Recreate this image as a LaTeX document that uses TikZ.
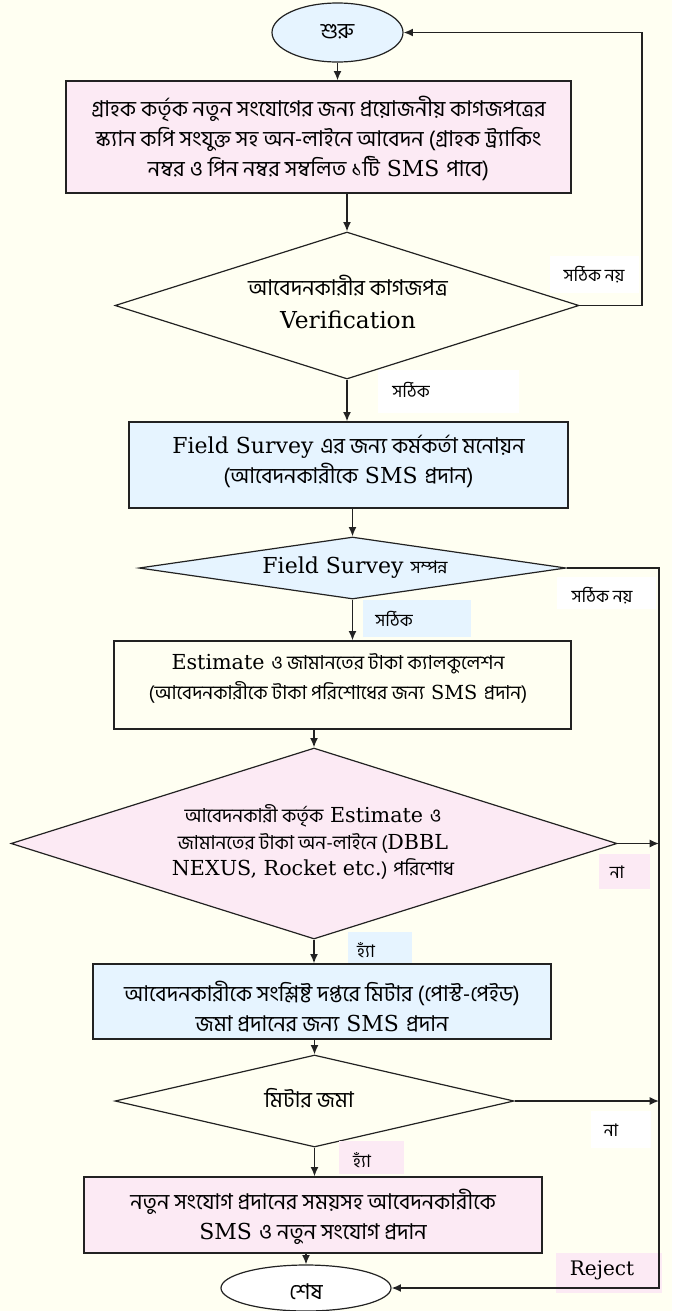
\documentclass[tikz,border=0pt]{standalone}
\usepackage{fontspec}
\setmainfont{DejaVu Serif}
\newfontfamily\bnfont[Script=Bengali]{Hind Siliguri}
\usetikzlibrary{shapes.geometric,arrows.meta}
\definecolor{bgc}{HTML}{FFFFF2}
\definecolor{pinkc}{HTML}{FCEAF4}
\definecolor{bluec}{HTML}{E6F4FF}
\definecolor{linec}{HTML}{222222}
\newcommand\B[1]{{\bnfont\fontsize{16.3}{22.5}\selectfont #1}}
\newcommand\Bm[1]{{\bnfont\fontsize{14.4}{20}\selectfont #1}}
\newcommand\Bs[1]{{\bnfont\fontsize{13}{14}\selectfont #1}}
\tikzset{
  box/.style={draw=linec, line width=1pt, rectangle, inner sep=0pt},
  dia/.style={draw=linec, line width=0.9pt, diamond, inner sep=0pt},
  ell/.style={draw=linec, line width=0.9pt, ellipse, inner sep=0pt},
  txt/.style={inner sep=0pt, align=center, font=\fontsize{16.5}{22.5}\selectfont},
  txm/.style={inner sep=0pt, align=center, font=\fontsize{14.8}{20}\selectfont},
  lbl/.style={rectangle, inner sep=0pt, draw=none},
  arr/.style={line width=1.1pt, draw=linec, -{Latex[length=7pt,width=6pt]}},
}
\begin{document}
\begin{tikzpicture}[x=0.75pt,y=-0.75pt]
\fill[bgc] (0,0) rectangle (672,1311);
\useasboundingbox (0,0) rectangle (672,1311);

% shapes
\node[ell, fill=bluec, minimum width=131*0.75pt, minimum height=59*0.75pt] (start) at (337.5,32.5) {};
\node[txt] (tstart) at (337.5,32) {\B{শুরু}};

\node[box, fill=pinkc, minimum width=505*0.75pt, minimum height=112*0.75pt] (b1) at (318.5,137) {};
\node[txt] (tb1) at (318.5,138) {\B{গ্রাহক কর্তৃক নতুন সংযোগের জন্য প্রয়োজনীয় কাগজপত্রের}\\
\B{স্ক্যান কপি সংযুক্ত সহ অন-লাইনে আবেদন (গ্রাহক ট্র্যাকিং}\\
\B{নম্বর ও পিন নম্বর সম্বলিত ১টি} SMS \B{পাবে)}};

\node[dia, fill=bgc, minimum width=464*0.75pt, minimum height=147*0.75pt] (d1) at (347,305.5) {};
\node[txt] (td1) at (348,302) {\B{আবেদনকারীর কাগজপত্র}\\[2pt]{\fontsize{17.5}{22.5}\selectfont Verification}};

\node[box, fill=bluec, minimum width=439*0.75pt, minimum height=86*0.75pt] (b2) at (348.5,465) {};
\node[txt] (tb2) at (348.5,461) {Field Survey \B{এর জন্য কর্মকর্তা মনোয়ন}\\
\B{(আবেদনকারীকে} SMS \B{প্রদান)}};

\node[dia, fill=bluec, minimum width=427*0.75pt, minimum height=62*0.75pt] (d2) at (352.5,568) {};
\node[txt] (td2) at (355,568) {Field Survey \Bs{সম্পন্ন}};

\node[box, fill=bgc, minimum width=457*0.75pt, minimum height=88*0.75pt] (b3) at (342.5,685) {};
\node[txm, font=\fontsize{15.5}{22.5}\selectfont] (tb3) at (338,678) {Estimate \Bm{ও জামানতের টাকা ক্যালকুলেশন}\\
\Bm{(আবেদনকারীকে টাকা পরিশোধের জন্য} {\fontsize{14.5}{20}\selectfont SMS} \Bm{প্রদান)}};

\node[dia, fill=pinkc, minimum width=606*0.75pt, minimum height=191*0.75pt] (d3) at (314,843.5) {};
\node[txm, font=\fontsize{15.5}{20}\selectfont] (td3) at (313,842) {\Bm{আবেদনকারী কর্তৃক} Estimate \Bm{ও}\\
\Bm{জামানতের  টাকা অন-লাইনে (}DBBL\\
NEXUS, Rocket etc.\Bm{) পরিশোধ}};

\node[box, fill=bluec, minimum width=458*0.75pt, minimum height=75*0.75pt] (b4) at (322,1001.5) {};
\node[txt] (tb4) at (322,1007) {\B{আবেদনকারীকে সংশ্লিষ্ট দপ্তরে মিটার (পোস্ট-পেইড)}\\
\B{জমা প্রদানের জন্য} SMS \B{প্রদান}};

\node[dia, fill=bgc, minimum width=399*0.75pt, minimum height=92*0.75pt] (d4) at (314.5,1101) {};
\node[txt] (td4) at (309,1098) {\B{মিটার জমা}};

\node[box, fill=pinkc, minimum width=458*0.75pt, minimum height=76*0.75pt] (b5) at (313,1215) {};
\node[txt] (tb5) at (313,1217) {\B{নতুন সংযোগ প্রদানের সময়সহ আবেদনকারীকে}\\
SMS \B{ও নতুন সংযোগ প্রদান}};

\node[ell, fill=white, minimum width=170*0.75pt, minimum height=46*0.75pt] (end) at (306,1288) {};
\node[txt] (tend) at (306,1292) {\B{শেষ}};

% label boxes
\node[lbl, fill=white, minimum width=89*0.75pt, minimum height=37*0.75pt] (l1) at (594.5,274.5) {};
\node[txt] (tl1) at (594,275) {\Bs{সঠিক নয়}};
\node[lbl, fill=white, minimum width=141*0.75pt, minimum height=43*0.75pt] (l2) at (448.5,391.5) {};
\node[txt] (tl2) at (411,390) {\Bs{সঠিক}};
\node[lbl, fill=white, minimum width=99*0.75pt, minimum height=32*0.75pt] (l3) at (606.5,593) {};
\node[txt] (tl3) at (602,596) {\Bs{সঠিক নয়}};
\node[lbl, fill=bluec, minimum width=108*0.75pt, minimum height=37*0.75pt] (l4) at (417,618.5) {};
\node[txt] (tl4) at (394,619) {\Bs{সঠিক}};
\node[lbl, fill=pinkc, minimum width=51*0.75pt, minimum height=35*0.75pt] (l5) at (624.5,871.5) {};
\node[txt] (tl5) at (617,872) {\Bs{না}};
\node[lbl, fill=bluec, minimum width=64*0.75pt, minimum height=31*0.75pt] (l6) at (380,947.5) {};
\node[txt] (tl6) at (366,950) {\Bs{হ্যাঁ}};
\node[lbl, fill=white, minimum width=60*0.75pt, minimum height=37*0.75pt] (l7) at (621,1129.5) {};
\node[txt] (tl7) at (611,1130) {\Bs{না}};
\node[lbl, fill=pinkc, minimum width=65*0.75pt, minimum height=33*0.75pt] (l8) at (371.5,1157.5) {};
\node[txt] (tl8) at (362,1160) {\Bs{হ্যাঁ}};
\node[lbl, fill=pinkc, minimum width=106*0.75pt, minimum height=40*0.75pt] (l9) at (609,1273) {};
\node[txt, font=\fontsize{15}{20}\selectfont] (tl9) at (602,1270) {Reject};

% right rails
\coordinate (r1) at (642,0);
\coordinate (r2) at (659,0);

% connectors
\draw[arr] (start.south) -- (start.south |- b1.north);
\draw[arr] (d1.north |- b1.south) -- (d1.north);
\draw[arr] (d1.east) -| (r1 |- start.east) -- (start.east);
\draw[arr] (d1.south) -- (d1.south |- b2.north);
\draw[arr] (d2.north |- b2.south) -- (d2.north);
\draw[arr] (d2.east) -| (r2 |- end.east) -- (end.east);
\draw[arr] (d2.south) -- (d2.south |- b3.north);
\draw[arr] (d3.north |- b3.south) -- (d3.north);
\draw[arr] (d3.east) -- (d3.east -| r2);
\draw[arr] (d3.south) -- (d3.south |- b4.north);
\draw[arr] (d4.north |- b4.south) -- (d4.north);
\draw[arr] (d4.east) -- (d4.east -| r2);
\draw[arr] (d4.south) -- (d4.south |- b5.north);
\draw[arr] (b5.south -| end.north) -- (end.north);
\end{tikzpicture}
\end{document}
